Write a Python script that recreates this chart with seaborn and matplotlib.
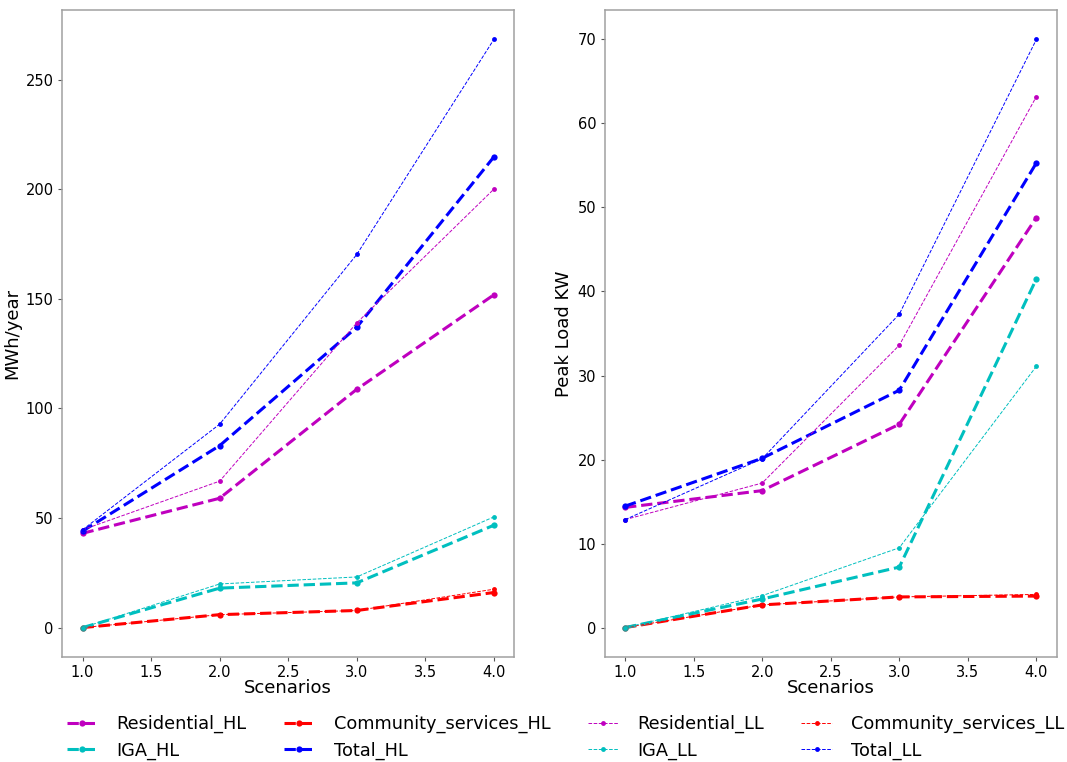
import matplotlib
matplotlib.use("Agg")
import matplotlib.pyplot as plt
import seaborn as sns
import pandas as pd

# Scenario index
scenarios = [1, 2, 3, 4]

# Annual energy demand (MWh/year)
energy_residential_hl = [43.0, 59.0, 108.7, 151.8]
energy_iga_hl = [0.0, 18.0, 20.4, 46.7]
energy_community_hl = [0.0, 5.9, 7.8, 16.0]
energy_total_hl = [44.0, 83.0, 137.0, 214.7]
energy_residential_ll = [44.6, 66.8, 139.0, 200.0]
energy_iga_ll = [0.0, 19.9, 23.1, 50.5]
energy_community_ll = [0.0, 5.9, 7.8, 17.5]
energy_total_ll = [44.6, 92.8, 170.2, 268.3]

# Peak load (kW)
peak_residential_hl = [14.3, 16.3, 24.2, 48.8]
peak_iga_hl = [0.0, 3.4, 7.2, 41.5]
peak_community_hl = [0.0, 2.7, 3.65, 3.75]
peak_total_hl = [14.45, 20.15, 28.25, 55.3]
peak_residential_ll = [12.85, 17.2, 33.6, 63.2]
peak_iga_ll = [0.0, 3.8, 9.5, 31.1]
peak_community_ll = [0.0, 2.7, 3.65, 3.95]
peak_total_ll = [12.85, 20.1, 37.3, 70.0]

series_names = ["Residential_HL", "IGA_HL", "Community_services_HL", "Total_HL",
                "Residential_LL", "IGA_LL", "Community_services_LL", "Total_LL"]
series_colors = ["m", "c", "r", "b", "m", "c", "r", "b"]

energy_values = [energy_residential_hl, energy_iga_hl, energy_community_hl, energy_total_hl,
                 energy_residential_ll, energy_iga_ll, energy_community_ll, energy_total_ll]
peak_values = [peak_residential_hl, peak_iga_hl, peak_community_hl, peak_total_hl,
               peak_residential_ll, peak_iga_ll, peak_community_ll, peak_total_ll]

sns.set_style("white", {"axes.edgecolor": "#a0a0a0", "xtick.bottom": True, "ytick.left": True,
                        "text.color": "black", "axes.labelcolor": "black",
                        "xtick.color": "black", "ytick.color": "black"})
plt.rcParams["font.family"] = ["DejaVu Sans"]

fig, axes = plt.subplots(1, 2, figsize=(10.67, 7.62), dpi=100)
fig.subplots_adjust(left=0.0581, right=0.9906, top=0.9869, bottom=0.1378, wspace=0.199)

# Heavy-load lines first, then the lighter low-load overlays
draw_order = [0, 2, 1, 3, 4, 6, 5, 7]


def draw_panel(ax, values, ylabel):
    for i in draw_order:
        name = series_names[i]
        df = pd.DataFrame({"Scenario": scenarios, "Value": values[i]})
        heavy = name.endswith("_HL")
        sns.lineplot(data=df, x="Scenario", y="Value", ax=ax,
                     color=series_colors[i], label=name,
                     linestyle="--", marker="o",
                     linewidth=2.2 if heavy else 0.7,
                     markersize=4.5 if heavy else 3.5,
                     markeredgewidth=0)
    for spine in ax.spines.values():
        spine.set_linewidth(1.1)
    ax.set_xlabel("Scenarios", fontsize=13, labelpad=-1)
    ax.set_ylabel(ylabel, fontsize=13, labelpad=3)
    ax.tick_params(labelsize=10.5, length=3, width=0.8, color="#555555",
                   labelcolor="black", pad=3)
    ax.set_xticks([1.0, 1.5, 2.0, 2.5, 3.0, 3.5, 4.0])
    ax.set_xticklabels(["1.0", "1.5", "2.0", "2.5", "3.0", "3.5", "4.0"])
    ax.get_legend().remove()


draw_panel(axes[0], energy_values, "MWh/year")
draw_panel(axes[1], peak_values, "Peak Load KW")

handles, labels = axes[0].get_legend_handles_labels()
lookup = dict(zip(labels, handles))
fig.legend([lookup[n] for n in series_names], series_names,
           loc="lower center", ncol=4, frameon=False, fontsize=12.8,
           bbox_to_anchor=(0.53, -0.018), columnspacing=2.1, handlelength=1.7,
           handletextpad=1.1, labelspacing=0.45)

fig.savefig("out.png", dpi=100)
